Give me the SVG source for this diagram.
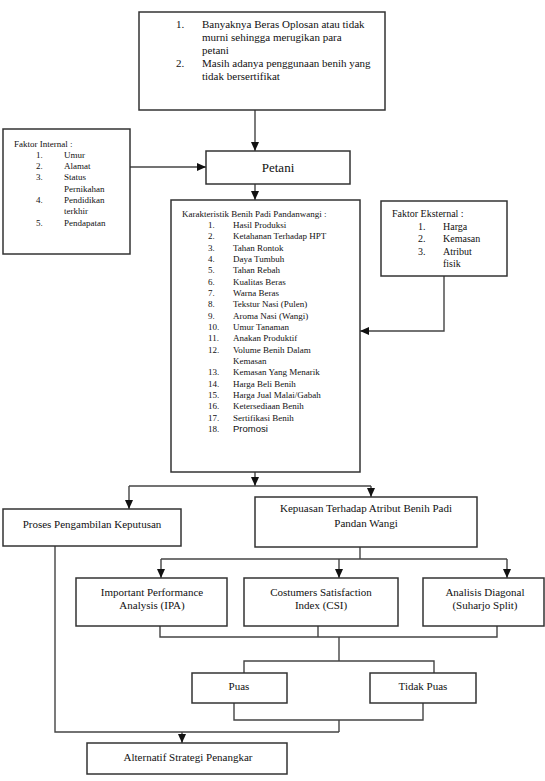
<svg xmlns="http://www.w3.org/2000/svg" width="545" height="781" viewBox="0 0 545 781">
<defs>
<style>
.box{fill:#fff;stroke:#333;stroke-width:1.5}
.ln{fill:none;stroke:#444;stroke-width:1.4}
.c{text-anchor:middle}
.t11{font-size:11px}
.t10{font-size:10px}
.t9{font-size:9px}
</style>
<marker id="ah" markerUnits="userSpaceOnUse" markerWidth="9" markerHeight="8" refX="9" refY="4" orient="auto">
<path d="M0,0 L9,4 L0,8 z" fill="#111"/>
</marker>
</defs>
<rect width="545" height="781" fill="#fff"/>

<g id="connectors">
<path class="ln" d="M255,110 V151" marker-end="url(#ah)"/>
<path class="ln" d="M130,167 H206" marker-end="url(#ah)"/>
<path class="ln" d="M255,184 V200" marker-end="url(#ah)"/>
<path class="ln" d="M444,276 V331 H360" marker-end="url(#ah)"/>
<path class="ln" d="M255,472 V486" marker-end="url(#ah)"/>
<path class="ln" d="M129,486 H371"/>
<path class="ln" d="M129,486 V509" marker-end="url(#ah)"/>
<path class="ln" d="M371,486 V497" marker-end="url(#ah)"/>
<path class="ln" d="M360,547 V559"/>
<path class="ln" d="M161,559 H507"/>
<path class="ln" d="M161,559 V578" marker-end="url(#ah)"/>
<path class="ln" d="M339,559 V578" marker-end="url(#ah)"/>
<path class="ln" d="M507,559 V578" marker-end="url(#ah)"/>
<path class="ln" d="M160,626 V637 H497 V626"/>
<path class="ln" d="M318,626 V637"/>
<path class="ln" d="M339,637 V661"/>
<path class="ln" d="M244,673 V661 H434 V673"/>
<path class="ln" d="M234,697 V720 H423 V697"/>
<path class="ln" d="M339,720 V732"/>
<path class="ln" d="M55,546 V732 H339"/>
<path class="ln" d="M182,732 V743" marker-end="url(#ah)"/>
</g>

<g font-family="Liberation Serif, Times New Roman, DejaVu Serif, serif" fill="#111">
<g id="masalah">
<rect class="box" x="139" y="12" width="246" height="98"/>
<text class="t11" x="176" y="28">1.</text>
<text class="t11" x="202" y="28">Banyaknya Beras Oplosan atau tidak</text>
<text class="t11" x="202" y="41">murni sehingga merugikan para</text>
<text class="t11" x="202" y="54">petani</text>
<text class="t11" x="176" y="67">2.</text>
<text class="t11" x="202" y="67">Masih adanya penggunaan benih yang</text>
<text class="t11" x="202" y="80">tidak bersertifikat</text>
</g>

<g id="faktor-internal">
<rect class="box" x="3" y="129" width="127" height="125"/>
<text class="t9" x="14" y="147">Faktor Internal :</text>
<text class="t9" x="36" y="158">1.</text><text class="t9" x="64" y="158">Umur</text>
<text class="t9" x="36" y="169">2.</text><text class="t9" x="64" y="169">Alamat</text>
<text class="t9" x="36" y="180">3.</text><text class="t9" x="64" y="180">Status</text>
<text class="t9" x="64" y="192">Pernikahan</text>
<text class="t9" x="36" y="203">4.</text><text class="t9" x="64" y="203">Pendidikan</text>
<text class="t9" x="64" y="214">terkhir</text>
<text class="t9" x="36" y="226">5.</text><text class="t9" x="64" y="226">Pendapatan</text>
</g>

<g id="petani">
<rect class="box" x="206" y="151" width="144" height="33"/>
<text class="c" x="278" y="172" font-size="13">Petani</text>
</g>

<g id="karakteristik">
<rect class="box" x="171" y="200" width="189" height="272"/>
<text class="t9" x="182" y="217">Karakteristik Benih Padi Pandanwangi :</text>
<g class="t9">
<text x="208" y="228">1.</text><text x="233" y="228">Hasil Produksi</text>
<text x="208" y="239.3">2.</text><text x="233" y="239.3">Ketahanan Terhadap HPT</text>
<text x="208" y="250.7">3.</text><text x="233" y="250.7">Tahan Rontok</text>
<text x="208" y="262">4.</text><text x="233" y="262">Daya Tumbuh</text>
<text x="208" y="273.3">5.</text><text x="233" y="273.3">Tahan Rebah</text>
<text x="208" y="284.7">6.</text><text x="233" y="284.7">Kualitas Beras</text>
<text x="208" y="296">7.</text><text x="233" y="296">Warna Beras</text>
<text x="208" y="307.3">8.</text><text x="233" y="307.3">Tekstur Nasi (Pulen)</text>
<text x="208" y="318.7">9.</text><text x="233" y="318.7">Aroma Nasi (Wangi)</text>
<text x="208" y="330">10.</text><text x="233" y="330">Umur Tanaman</text>
<text x="208" y="341.3">11.</text><text x="233" y="341.3">Anakan Produktif</text>
<text x="208" y="352.7">12.</text><text x="233" y="352.7">Volume Benih Dalam</text>
<text x="233" y="364">Kemasan</text>
<text x="208" y="375.3">13.</text><text x="233" y="375.3">Kemasan Yang Menarik</text>
<text x="208" y="386.7">14.</text><text x="233" y="386.7">Harga Beli Benih</text>
<text x="208" y="398">15.</text><text x="233" y="398">Harga Jual Malai/Gabah</text>
<text x="208" y="409.3">16.</text><text x="233" y="409.3">Ketersediaan Benih</text>
<text x="208" y="420.7">17.</text><text x="233" y="420.7">Sertifikasi Benih</text>
<text x="208" y="432">18.</text>
</g>
<text x="233" y="432" font-size="9.5" font-family="Liberation Sans, Arial, sans-serif">Promosi</text>
</g>

<g id="faktor-eksternal">
<rect class="box" x="381" y="201" width="126" height="75"/>
<text class="t10" x="392" y="217">Faktor Eksternal :</text>
<text class="t10" x="418" y="229.5">1.</text><text class="t10" x="443" y="229.5">Harga</text>
<text class="t10" x="418" y="242">2.</text><text class="t10" x="443" y="242">Kemasan</text>
<text class="t10" x="418" y="254.5">3.</text><text class="t10" x="443" y="254.5">Atribut</text>
<text class="t10" x="443" y="267">fisik</text>
</g>

<g id="proses">
<rect class="box" x="3" y="509" width="178" height="37"/>
<text class="t11 c" x="92" y="528">Proses Pengambilan Keputusan</text>
</g>

<g id="kepuasan">
<rect class="box" x="255" y="497" width="222" height="50"/>
<text class="t11 c" x="366" y="512">Kepuasan Terhadap Atribut Benih Padi</text>
<text class="t11 c" x="366" y="527">Pandan Wangi</text>
</g>

<g id="ipa">
<rect class="box" x="76" y="578" width="151" height="48"/>
<text class="t11 c" x="152" y="596">Important Performance</text>
<text class="t11 c" x="152" y="609">Analysis (IPA)</text>
</g>

<g id="csi">
<rect class="box" x="244" y="578" width="154" height="48"/>
<text class="t11 c" x="321" y="596">Costumers Satisfaction</text>
<text class="t11 c" x="321" y="609">Index (CSI)</text>
</g>

<g id="analisis">
<rect class="box" x="423" y="578" width="121" height="48"/>
<text class="t11 c" x="485" y="596">Analisis Diagonal</text>
<text class="t11 c" x="485" y="609">(Suharjo Split)</text>
</g>

<g id="puas">
<rect class="box" x="192" y="673" width="95" height="30"/>
<text class="t11 c" x="239" y="690">Puas</text>
</g>

<g id="tidak-puas">
<rect class="box" x="370" y="673" width="106" height="30"/>
<text class="t11 c" x="423" y="690">Tidak Puas</text>
</g>

<g id="alternatif">
<rect class="box" x="87" y="743" width="200" height="31"/>
<text class="t11 c" x="188" y="761">Alternatif Strategi Penangkar</text>
</g>
</g>
</svg>
